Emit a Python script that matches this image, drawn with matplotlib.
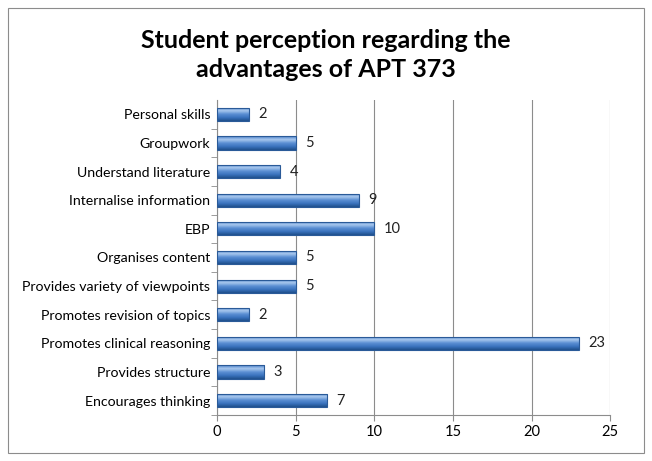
import matplotlib
matplotlib.use("Agg")
from matplotlib import pyplot as plt
from matplotlib.patches import Rectangle
from matplotlib.colors import LinearSegmentedColormap
import numpy as np

categories = ["Encourages thinking", "Provides structure", "Promotes clinical reasoning",
              "Promotes revision of topics", "Provides variety of viewpoints", "Organises content",
              "EBP", "Internalise information", "Understand literature", "Groupwork", "Personal skills"]
counts = [7, 3, 23, 2, 5, 5, 10, 9, 4, 5, 2]
xticks = [0, 5, 10, 15, 20, 25]

plt.rcParams["font.family"] = ["Lato", "DejaVu Sans"]

fig = plt.figure(figsize=(6.52, 4.61), dpi=100)
ax = fig.add_axes([0.333, 0.1, 0.603, 0.683])

# figure border
fig.patches.append(Rectangle((0.012, 0.017), 0.975, 0.966, transform=fig.transFigure,
                             fill=False, edgecolor="#8c8c8c", linewidth=0.8))

ypos = list(range(len(categories)))
h = 0.46
bars = ax.barh(ypos, counts, height=h, color="none", edgecolor="#2a5a98", linewidth=0.8, zorder=4)

# vertical gradient inside each bar (light top, dark bottom)
cmap = LinearSegmentedColormap.from_list("bar", ["#1f4f8c", "#3a72bd", "#5b8fd3", "#a9c8ee", "#4a80c8"])
grad = np.linspace(0, 1, 64).reshape(-1, 1)
for b in bars:
    x0, y0 = b.get_x(), b.get_y()
    im = ax.imshow(grad, cmap=cmap, aspect="auto", origin="lower",
                   extent=(x0, x0 + b.get_width(), y0, y0 + b.get_height()), zorder=3)
    im.set_clip_path(b)

for y, v in zip(ypos, counts):
    ax.text(v + 0.6, y, str(v), va="center", ha="left", fontsize=10.5, color="#222222")

ax.set_xlim(0, 25)
ax.set_ylim(-0.5, len(categories) - 0.5)
ax.set_xticks(xticks)
ax.set_yticks(ypos)
ax.set_yticklabels(categories)
ax.tick_params(axis="y", length=0, labelsize=10.2, pad=5)
ax.tick_params(axis="x", length=4, color="#8c8c8c", labelsize=10.5)
ax.set_yticks([y + 0.5 for y in ypos[:-1]] + [-0.5], minor=True)
ax.tick_params(axis="y", which="minor", length=4, color="#8c8c8c")

ax.grid(axis="x", color="#8c8c8c", linewidth=0.8, zorder=0)
for side in ["top", "right"]:
    ax.spines[side].set_visible(False)
ax.spines["left"].set_color("#8c8c8c")
ax.spines["bottom"].set_color("#8c8c8c")

fig.text(0.5, 0.88, "Student perception regarding the\nadvantages of APT 373", ha="center",
         va="center", fontsize=18, fontweight="bold", linespacing=1.3)

fig.savefig("out.png", dpi=100)
